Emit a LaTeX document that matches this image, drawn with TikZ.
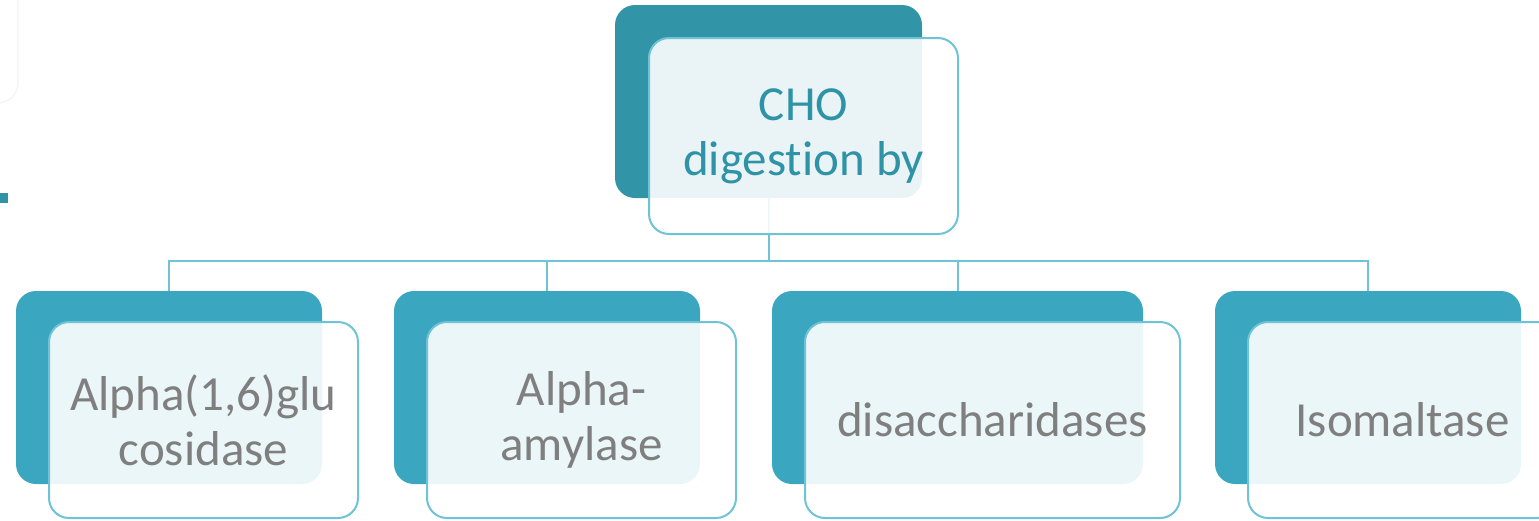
\documentclass[tikz,border=0pt]{standalone}
\usepackage{fontspec}
\setmainfont{Carlito}[RawFeature=-liga]
\definecolor{topback}{HTML}{3294A7}
\definecolor{back}{HTML}{3AA6BF}
\definecolor{edge}{HTML}{6EC3D6}
\definecolor{toptext}{HTML}{2E93A6}
\definecolor{graytext}{HTML}{7F7F7F}
\tikzset{
  backbox/.style={rectangle, rounded corners=20pt, inner sep=0pt, draw=none},
  frontbox/.style={rectangle, rounded corners=20pt, inner sep=0pt, draw=edge, line width=2pt,
    fill=white, fill opacity=0.9, text opacity=1, align=center,
    font=\fontsize{49}{55}\selectfont, text=graytext},
  link/.style={draw=edge, line width=2pt}
}
\begin{document}
\begin{tikzpicture}[x=1pt,y=-1pt]
\useasboundingbox (0,0) rectangle (1539,520);
\clip (0,0) rectangle (1539,520);
% faint background artefacts
\draw[gray!8, line width=1.5pt, rounded corners=20pt] (-300,-50) rectangle (18,103);
\fill[toptext] (0,193) rectangle (8,203);
% back boxes
\node[backbox, fill=topback, minimum width=307pt, minimum height=193pt] (topb) at (768.5,101.5) {};
\node[backbox, fill=back, minimum width=306pt, minimum height=193pt] (b1b) at (169,387.5) {};
\node[backbox, fill=back, minimum width=306pt, minimum height=193pt] (b2b) at (547,387.5) {};
\node[backbox, fill=back, minimum width=371pt, minimum height=193pt] (b3b) at (957.5,387.5) {};
\node[backbox, fill=back, minimum width=306pt, minimum height=193pt] (b4b) at (1368,387.5) {};
% connectors
\coordinate (hub) at (768.5,261);
\draw[link] (topb.south) -- (hub);
\draw[link] (b1b.north) |- (hub) -| (b4b.north);
\draw[link] (b2b.north) -- (b2b.north |- hub);
\draw[link] (b3b.north) -- (b3b.north |- hub);
% front boxes
\node[frontbox, text=toptext, minimum width=309pt, minimum height=196pt] (topf) at (803.5,136) {CHO\\digestion by};
\node[frontbox, minimum width=309pt, minimum height=196pt] (b1f) at (203.5,420) {Alpha(1,6)glu\\cosidase};
\node[frontbox, minimum width=309pt, minimum height=196pt] (b2f) at (581.5,420) {Alpha-\\amylase};
\node[frontbox, minimum width=375pt, minimum height=196pt] (b3f) at (992.5,420) {disaccharidases};
\node[frontbox, minimum width=309pt, minimum height=196pt] (b4f) at (1402.5,420) {Isomaltase};
\end{tikzpicture}
\end{document}
